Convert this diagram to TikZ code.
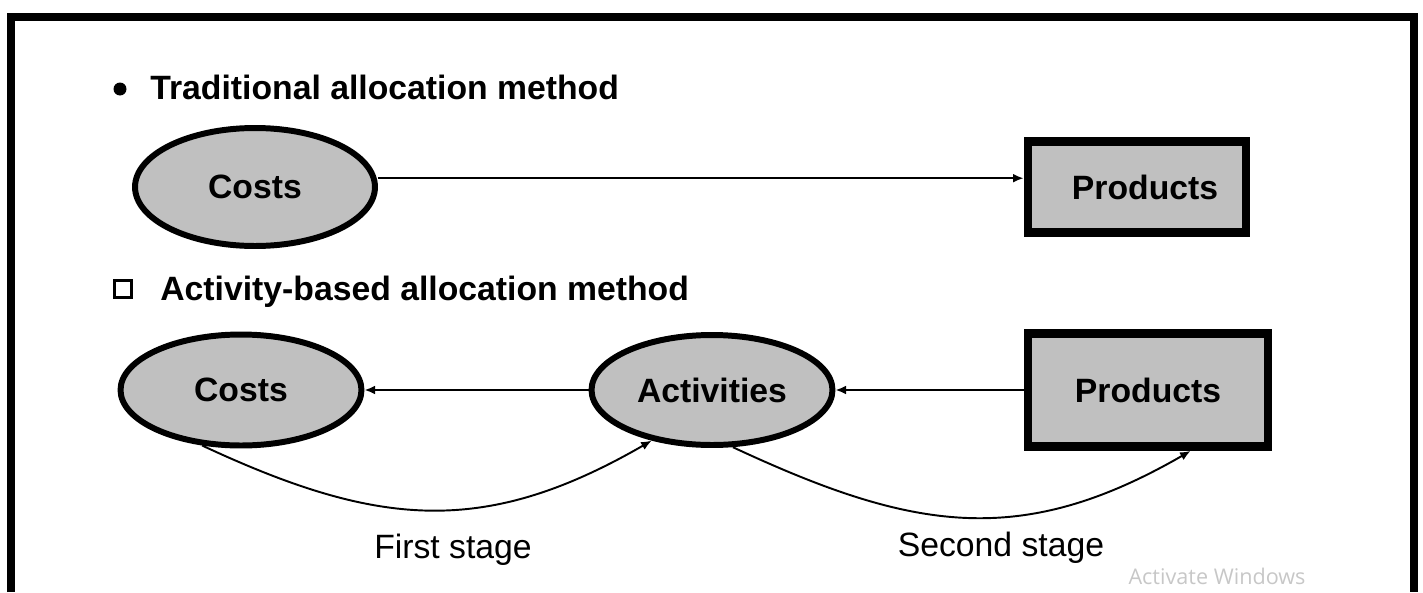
\documentclass[tikz,border=0pt]{standalone}
\usepackage{fontspec}
\setmainfont{Liberation Sans}
\newfontfamily\winfont{Open Sans}
\usetikzlibrary{shapes.geometric,arrows.meta}
\definecolor{boxgray}{RGB}{192,192,192}

\begin{document}
\begin{tikzpicture}[x=0.02cm,y=-0.02cm,
  font=\fontsize{19.2}{23}\selectfont,
  oval/.style={draw,fill=boxgray,ellipse,line width=3.4pt,inner sep=0pt,font=\fontsize{19.2}{23}\selectfont\bfseries},
  box/.style={draw,fill=boxgray,rectangle,line width=5pt,inner sep=0pt,font=\fontsize{19.2}{23}\selectfont\bfseries},
  heading/.style={anchor=base west,inner sep=0pt,font=\fontsize{19.2}{23}\selectfont\bfseries},
  stage/.style={anchor=base,inner sep=0pt},
  arr/.style={-{Latex[length=6pt,width=5pt]},line width=1.1pt}]
\useasboundingbox (0,0) rectangle (1423,592);

% Frame
\draw[line width=4.5pt] (11,592) -- (11,17) -- (1414,17) -- (1414,592);

% Traditional method
\node[fill=black,circle,minimum size=0.26cm,inner sep=0pt] (dot) at (120,89) {};
\node[heading] (headA) at (150,99) {Traditional allocation method};
\node[oval,minimum width=4.8cm,minimum height=2.36cm] (costA) at (255,187) {Costs};
\node[box,minimum width=4.36cm,minimum height=1.82cm] (prodA) at (1137,187) {\hspace{0.32cm}Products};
\draw[arr] ([yshift=5pt]costA.east) -- ([yshift=5pt]prodA.west);

% Activity-based method
\node[draw,line width=1.7pt,minimum size=0.34cm,inner sep=0pt] (sq) at (123,289) {};
\node[heading] (headB) at (160,300) {Activity-based allocation method};
\node[oval,minimum width=4.82cm,minimum height=2.22cm] (costB) at (241,390) {Costs};
\node[oval,minimum width=4.82cm,minimum height=2.2cm] (act) at (712,390) {Activities};
\node[box,minimum width=4.8cm,minimum height=2.26cm] (prodB) at (1148,390) {Products};

% Arrows
\draw[arr] (act) -- (costB);
\draw[arr] (prodB) -- (act);
\draw[arr] (costB.235) to[out=-25,in=-150,looseness=1.1] (act.220);
\draw[arr] (act.290) to[out=-25,in=-150,looseness=1.1] (prodB.305);

% Stage labels
\node[stage] (first) at (453,558) {First stage};
\node[stage] (second) at (1001,556) {Second stage};
\node[anchor=base,inner sep=0pt,text=black!22,font=\winfont\fontsize{12.3}{14}\selectfont] (win) at (1217,584) {Activate Windows};
\end{tikzpicture}
\end{document}
